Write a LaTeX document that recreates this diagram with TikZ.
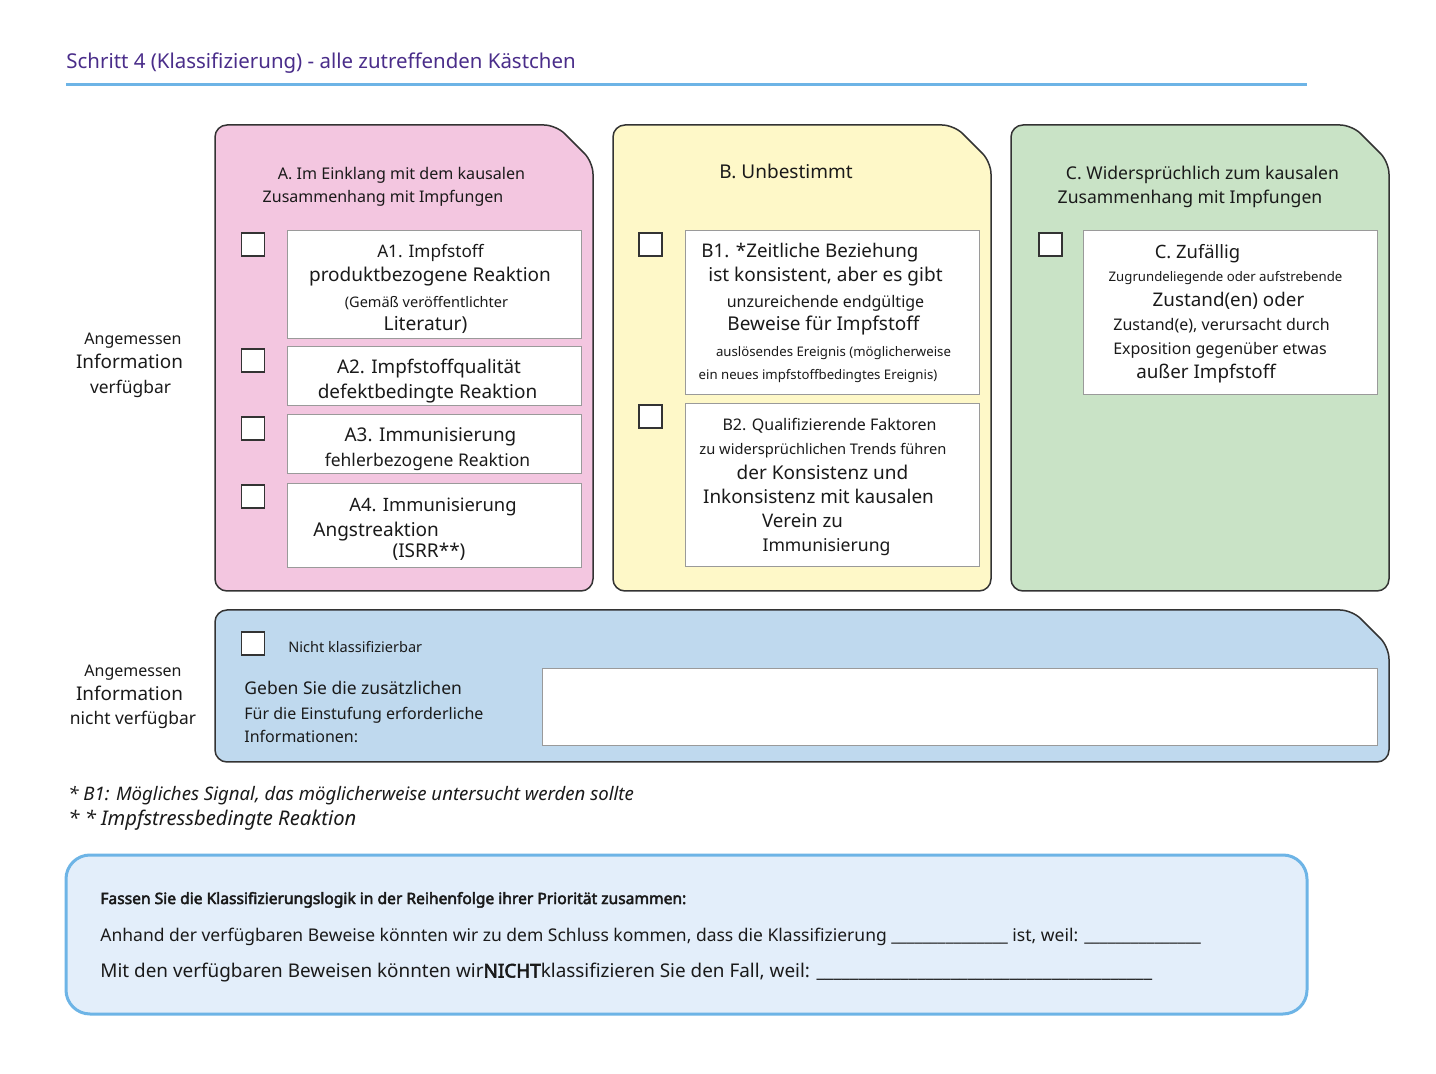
\documentclass[tikz,border=0pt]{standalone}
\usepackage{fontspec}
\setmainfont{Noto Sans}[BoldFont={Noto Sans}, BoldFeatures={FakeBold=3}]
\usetikzlibrary{fit}
\newcommand{\fsz}[1]{\fontsize{#1}{#1}\selectfont}
\definecolor{titlec}{HTML}{4A2D8A}
\definecolor{rulec}{HTML}{6DB4E6}
\definecolor{pinkc}{HTML}{F3C6E0}
\definecolor{yellc}{HTML}{FEF8C8}
\definecolor{greenc}{HTML}{C9E3C6}
\definecolor{bluec}{HTML}{BFD9EE}
\definecolor{sumfill}{HTML}{E3EEFA}
\definecolor{panelline}{HTML}{333333}
\definecolor{inline}{HTML}{9A9A9A}
\definecolor{ink}{HTML}{1A1A1A}
\tikzset{
  panel/.style={draw=panelline, line width=0.75pt, rounded corners=6pt},
  inbox/.style={draw=inline, fill=white, line width=0.5pt, inner sep=0pt},
  chk/.style={draw=panelline, fill=white, line width=0.7pt, inner sep=0pt, minimum size=11.5pt},
  txt/.style={inner sep=0pt, text=ink, anchor=base},
  ltxt/.style={inner sep=0pt, text=ink, anchor=base west},
}
\begin{document}
\begin{tikzpicture}[x=0.5pt, y=-0.5pt]
\useasboundingbox (0,0) rectangle (1436,1074);
\fill[white] (0,0) rectangle (1436,1074);

% title
\node[ltxt, text=titlec] (title) at (66,69) {\fsz{10.22}Schritt 4 (Klassifizierung) - alle zutreffenden Kästchen};
\draw[rulec, line width=1.5pt] (66,85) -- (1307,85);

% panels
\draw[panel, fill=pinkc] (215,125) -- (556,125) -- (593,162) -- (593,591) -- (215,591) -- cycle;
\draw[panel, fill=yellc] (613,125) -- (954,125) -- (991,162) -- (991,591) -- (613,591) -- cycle;
\draw[panel, fill=greenc] (1011,125) -- (1352,125) -- (1389,162) -- (1389,591) -- (1011,591) -- cycle;
\draw[panel, fill=bluec] (215,610) -- (1352,610) -- (1389,647) -- (1389,762) -- (215,762) -- cycle;

% left labels
\node[txt] (l1a) at (133,345) {\fsz{8}Angemessen};
\node[txt] (l1b) at (129.5,369) {\fsz{9.45}Information};
\node[txt] (l1c) at (130.5,394) {\fsz{8.7}verfügbar};
\node[txt] (l2a) at (133,677) {\fsz{8}Angemessen};
\node[txt] (l2b) at (129.5,701) {\fsz{9.45}Information};
\node[txt] (l2c) at (133,725) {\fsz{8.7}nicht verfügbar};

% ---- Panel A
\node[txt] (Ah1) at (401.5,180) {\fsz{8.05}A. Im Einklang mit dem kausalen};
\node[txt] (Ah2) at (383,203) {\fsz{8}Zusammenhang mit Impfungen};
\node[chk] (cA1) at (253,244.5) {};
\node[chk] (cA2) at (253,360.5) {};
\node[chk] (cA3) at (253,428.5) {};
\node[chk] (cA4) at (253,496.5) {};
\node[inbox, fit={(287,231) (581,339)}] (bA1) {};
\node[inbox, fit={(287,347) (581,406)}] (bA2) {};
\node[inbox, fit={(287,415) (581,474)}] (bA3) {};
\node[inbox, fit={(287,484) (581,568)}] (bA4) {};
\node[txt] (A1a) at (430.5,258) {\fsz{8.6}A1. Impfstoff};
\node[txt] (A1b) at (430,282) {\fsz{9.5}produktbezogene Reaktion};
\node[txt] (A1c) at (426.5,307.5) {\fsz{7.27}(Gemäß veröffentlichter};
\node[txt] (A1d) at (425.5,331) {\fsz{9.6}Literatur)};
\node[txt] (A2a) at (429,373.5) {\fsz{9.4}A2. Impfstoffqualität};
\node[txt] (A2b) at (427.5,399) {\fsz{9.48}defektbedingte Reaktion};
\node[txt] (A3a) at (430.5,441.5) {\fsz{9.44}A3. Immunisierung};
\node[txt] (A3b) at (427.5,466.5) {\fsz{8.74}fehlerbezogene Reaktion};
\node[txt] (A4a) at (433,511.5) {\fsz{9.2}A4. Immunisierung};
\node[ltxt] (A4b) at (313,536.5) {\fsz{9.5}Angstreaktion};
\node[txt] (A4c) at (429,558) {\fsz{9.5}(ISRR**)};

% ---- Panel B
\node[txt] (Bh) at (786,179) {\fsz{9.5}B. Unbestimmt};
\node[chk] (cB1) at (650.5,244.5) {};
\node[chk] (cB2) at (650.5,416.5) {};
\node[inbox, fit={(685,231) (979,395)}] (bB1) {};
\node[inbox, fit={(685,404) (979,567)}] (bB2) {};
\node[ltxt] (B1a) at (701,258) {\fsz{9.4}B1. *Zeitliche Beziehung};
\node[txt] (B1b) at (825.5,281.5) {\fsz{9.5}ist konsistent, aber es gibt};
\node[txt] (B1c) at (825.5,307.5) {\fsz{8.0}unzureichende endgültige};
\node[txt] (B1d) at (823.5,331) {\fsz{9.5}Beweise für Impfstoff};
\node[txt] (B1e) at (833.5,356.5) {\fsz{6.6}auslösendes Ereignis (möglicherweise};
\node[txt] (B1f) at (818,380) {\fsz{6.6}ein neues impfstoffbedingtes Ereignis)};
\node[txt] (B2a) at (829.5,431) {\fsz{8.0}B2. Qualifizierende Faktoren};
\node[txt] (B2b) at (823,455) {\fsz{7.33}zu widersprüchlichen Trends führen};
\node[txt] (B2c) at (822.5,480) {\fsz{9.5}der Konsistenz und};
\node[txt] (B2d) at (818.5,504) {\fsz{9.45}Inkonsistenz mit kausalen};
\node[txt] (B2e) at (802.5,528) {\fsz{9.35}Verein zu};
\node[txt] (B2f) at (826.5,551.5) {\fsz{8.8}Immunisierung};

% ---- Panel C
\node[txt] (Ch1) at (1202.5,179.5) {\fsz{8.8}C. Widersprüchlich zum kausalen};
\node[txt] (Ch2) at (1190,203.5) {\fsz{8.8}Zusammenhang mit Impfungen};
\node[chk] (cC) at (1050.5,244.5) {};
\node[inbox, fit={(1083,231) (1377,395)}] (bC) {};
\node[txt] (C1a) at (1197.5,258.5) {\fsz{9.2}C. Zufällig};
\node[txt] (C1b) at (1225.5,281.5) {\fsz{6.6}Zugrundeliegende oder aufstrebende};
\node[txt] (C1c) at (1228.5,307) {\fsz{9.4}Zustand(en) oder};
\node[txt] (C1d) at (1221.5,331) {\fsz{8.0}Zustand(e), verursacht durch};
\node[txt] (C1e) at (1220,355) {\fsz{8}Exposition gegenüber etwas};
\node[txt] (C1f) at (1206,379) {\fsz{9.4}außer Impfstoff};

% ---- Panel D
\node[chk] (cD) at (253,643.5) {};
\node[ltxt] (D1) at (288,652.5) {\fsz{7.27}Nicht klassifizierbar};
\node[ltxt] (D2) at (244,695) {\fsz{8.75}Geben Sie die zusätzlichen};
\node[ltxt] (D3) at (244,720) {\fsz{8.0}Für die Einstufung erforderliche};
\node[ltxt] (D4) at (244,743) {\fsz{8.0}Informationen:};
\node[inbox, fit={(542,669) (1377,746)}] (bD) {};

% footnotes
\node[ltxt] (f1) at (68,801) {\fsz{9.3}\itshape * B1: Mögliches Signal, das möglicherweise untersucht werden sollte};
\node[ltxt] (f2) at (68,826) {\fsz{10.1}\itshape * * Impfstressbedingte Reaktion};

% summary
\draw[draw=rulec, fill=sumfill, line width=1.5pt, rounded corners=12pt] (66,855) rectangle (1307,1014);
\node[ltxt] (s1) at (100,904) {\fsz{7.8}\bfseries Fassen Sie die Klassifizierungslogik in der Reihenfolge ihrer Priorität zusammen:};
\node[ltxt] (s2) at (100,941) {\fsz{8.75}Anhand der verfügbaren Beweise könnten wir zu dem Schluss kommen, dass die Klassifizierung \_\_\_\_\_\_\_\_\_\_\_\_\_\_\_ ist, weil: \_\_\_\_\_\_\_\_\_\_\_\_\_\_\_};
\node[ltxt] (s3) at (100,977.5) {\fsz{9.45}Mit den verfügbaren Beweisen könnten wir\textbf{NICHT}klassifizieren Sie den Fall, weil: \_\_\_\_\_\_\_\_\_\_\_\_\_\_\_\_\_\_\_\_\_\_\_\_\_\_\_\_\_\_\_\_\_\_\_\_\_\_\_\_};
\end{tikzpicture}
\end{document}
